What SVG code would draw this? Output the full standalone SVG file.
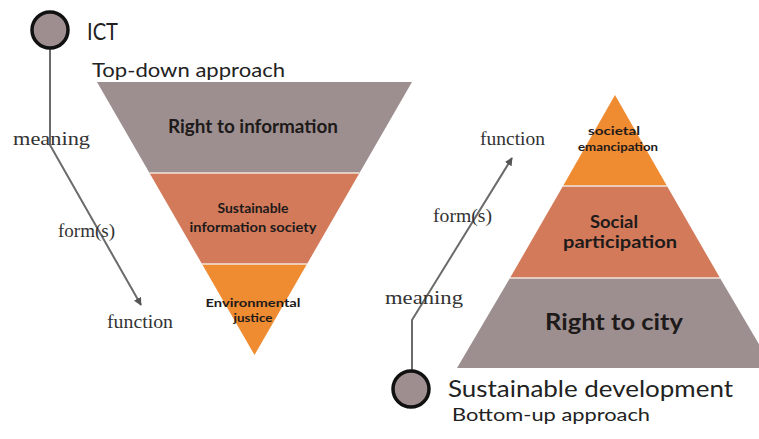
<svg xmlns="http://www.w3.org/2000/svg" width="759" height="439" viewBox="0 0 759 439">
<style>
.sans{font-family:Lato,"Open Sans","Liberation Sans",sans-serif;fill:#222}
.b{font-weight:bold;fill:#1e1a1a}
.serif{font-family:"Liberation Serif","DejaVu Serif",serif;fill:#333;font-size:18px}
.gray{fill:#9d8f8f}
.coral{fill:#d37a5b}
.orange{fill:#ef8b31}
.sep{stroke:#f3e6dc;stroke-width:1.5;fill:none}
.conn{stroke:#6b6b6b;stroke-width:2;fill:none}
.dot{fill:#9e8e8f;stroke:#111;stroke-width:3.5}
</style>
<defs>
<marker id="ah" viewBox="0 0 10 10" refX="9" refY="5" markerWidth="4" markerHeight="4" orient="auto" markerUnits="strokeWidth">
<path d="M0,0 L10,5 L0,10 z" fill="#555"/>
</marker>
</defs>
<rect width="759" height="439" fill="#fff"/>

<g id="connectors">
<path class="conn" d="M50,48 L50,145 L141,305" marker-end="url(#ah)"/>
<path class="conn" d="M412,370 L412,320 L512,158" marker-end="url(#ah)"/>
</g>

<g id="top-down-pyramid">
<g id="right-to-information">
<polygon class="gray" points="97,82 412,82 359.5,173 149.5,173"/>
<text class="sans b" x="253" y="133" font-size="18" text-anchor="middle" textLength="170" lengthAdjust="spacingAndGlyphs">Right to information</text>
</g>
<g id="sustainable-information-society">
<polygon class="coral" points="149.5,173 359.5,173 307,264 202,264"/>
<text class="sans b" font-size="12.5" text-anchor="middle"><tspan x="253" y="213" textLength="71" lengthAdjust="spacingAndGlyphs">Sustainable</tspan><tspan x="253" y="232" textLength="127" lengthAdjust="spacingAndGlyphs">information  society</tspan></text>
</g>
<g id="environmental-justice">
<polygon class="orange" points="202,264 307,264 254.5,355"/>
<text class="sans b" font-size="12" text-anchor="middle"><tspan x="253" y="307" textLength="95" lengthAdjust="spacingAndGlyphs">Environmental</tspan><tspan x="253" y="322" textLength="39" lengthAdjust="spacingAndGlyphs">justice</tspan></text>
</g>
<line class="sep" x1="149.5" y1="173" x2="359.5" y2="173"/>
<line class="sep" x1="202" y1="264" x2="307" y2="264"/>
</g>

<g id="bottom-up-pyramid">
<g id="societal-emancipation">
<polygon class="orange" points="615,95 667,186 563,186"/>
<text class="sans b" font-size="12" text-anchor="middle"><tspan x="614" y="135" textLength="52" lengthAdjust="spacingAndGlyphs">societal</tspan><tspan x="618" y="151" textLength="80" lengthAdjust="spacingAndGlyphs">emancipation</tspan></text>
</g>
<g id="social-participation">
<polygon class="coral" points="563,186 667,186 720,278 510,278"/>
<text class="sans b" font-size="16.5" text-anchor="middle"><tspan x="614" y="228" textLength="48" lengthAdjust="spacingAndGlyphs">Social</tspan><tspan x="620" y="248" textLength="114" lengthAdjust="spacingAndGlyphs">participation</tspan></text>
</g>
<g id="right-to-city">
<polygon class="gray" points="510,278 720,278 773,368 457,368"/>
<text class="sans b" x="614" y="330" font-size="23" text-anchor="middle" textLength="138" lengthAdjust="spacingAndGlyphs">Right to city</text>
</g>
<line class="sep" x1="563" y1="186" x2="667" y2="186"/>
<line class="sep" x1="510" y1="278" x2="720" y2="278"/>
</g>

<g id="ict">
<circle class="dot" cx="50" cy="30" r="18"/>
<text class="sans" x="87" y="40" font-size="24" textLength="31" lengthAdjust="spacingAndGlyphs">ICT</text>
<text class="sans" x="92" y="77" font-size="20" textLength="193" lengthAdjust="spacingAndGlyphs">Top-down approach</text>
</g>

<g id="sustainable-development">
<circle class="dot" cx="411" cy="389" r="18"/>
<text class="sans" x="448" y="397" font-size="24" textLength="285" lengthAdjust="spacingAndGlyphs">Sustainable  development</text>
<text class="sans" x="452" y="421" font-size="18" textLength="198" lengthAdjust="spacingAndGlyphs">Bottom-up approach</text>
</g>

<g id="labels-left">
<text class="serif" x="13" y="145" textLength="77" lengthAdjust="spacingAndGlyphs">meaning</text>
<text class="serif" x="58" y="237" textLength="57" lengthAdjust="spacingAndGlyphs">form(s)</text>
<text class="serif" x="107" y="328" textLength="66" lengthAdjust="spacingAndGlyphs">function</text>
</g>
<g id="labels-right">
<text class="serif" x="385" y="304" textLength="78" lengthAdjust="spacingAndGlyphs">meaning</text>
<text class="serif" x="433" y="222" textLength="59" lengthAdjust="spacingAndGlyphs">form(s)</text>
<text class="serif" x="480" y="145" textLength="65" lengthAdjust="spacingAndGlyphs">function</text>
</g>
</svg>
